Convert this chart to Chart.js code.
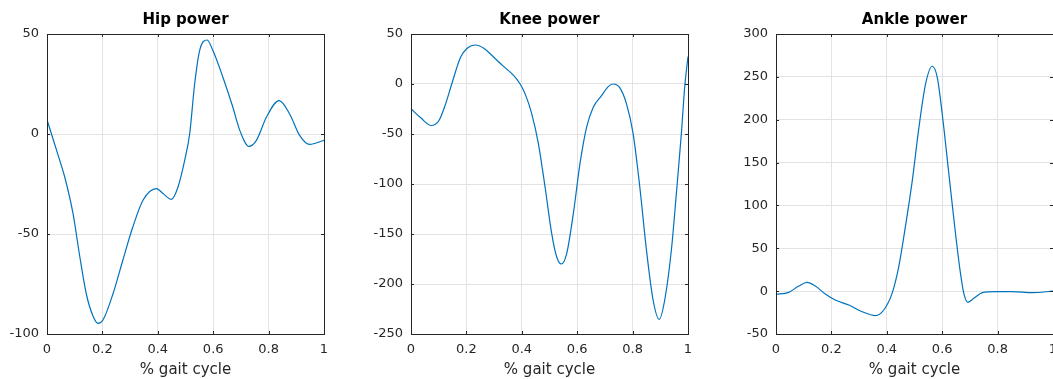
<!DOCTYPE html>
<html>
<head>
<meta charset="utf-8">
<script src="https://cdn.jsdelivr.net/npm/chart.js@4.4.0/dist/chart.umd.min.js"></script>
<style>
  html, body { margin: 0; padding: 0; background: #fff; overflow: hidden; width: 1053px; height: 379px; }
  .panel { position: absolute; top: 0; width: 364px; height: 379px; }
</style>
</head>
<body>
<div class="panel" style="left:0px"><canvas id="hip"></canvas></div>
<div class="panel" style="left:364px"><canvas id="knee"></canvas></div>
<div class="panel" style="left:729px"><canvas id="ankle"></canvas></div>
<script>
// % gait cycle positions and power values
const hipX = [0, 0.046, 0.064, 0.094, 0.118, 0.142, 0.166, 0.184, 0.202, 0.238, 0.274, 0.31, 0.347, 0.395, 0.419, 0.449, 0.473, 0.497, 0.515, 0.533, 0.551, 0.578, 0.599, 0.635, 0.671, 0.696, 0.729, 0.756, 0.792, 0.838, 0.876, 0.912, 0.948, 1.0];
const hipY = [7.1, -13.2, -21.5, -39.8, -61, -80, -91, -94.7, -93, -80, -63, -46.4, -33, -27.3, -29.8, -32.7, -26.5, -13.2, 0, 25, 41.7, 47, 41.7, 28.4, 13.4, 1.8, -6.2, -3.2, 8.4, 16.7, 10, -0.7, -5.2, -3.2];

const kneeX = [0, 0.035, 0.073, 0.101, 0.125, 0.149, 0.179, 0.203, 0.233, 0.263, 0.299, 0.335, 0.371, 0.394, 0.412, 0.436, 0.46, 0.484, 0.508, 0.526, 0.543, 0.562, 0.586, 0.61, 0.634, 0.658, 0.688, 0.712, 0.73, 0.754, 0.778, 0.802, 0.826, 0.85, 0.874, 0.896, 0.916, 0.94, 0.958, 0.976, 0.988, 1.0];
const kneeY = [-24.8, -33.8, -41.5, -36.5, -19.9, 1.8, 26.7, 35.7, 39, 35.7, 26.7, 17.4, 8.4, 0, -9.9, -29.8, -59.8, -103, -149.6, -173, -180, -169.6, -129.7, -79.7, -43.1, -23.2, -11.6, -2.6, 0, -3.9, -19.9, -49.8, -103, -166, -216, -235.4, -216, -166, -109.6, -49.8, -3.2, 27.4];

const ankleX = [0, 0.046, 0.082, 0.112, 0.142, 0.178, 0.214, 0.263, 0.311, 0.359, 0.389, 0.419, 0.443, 0.467, 0.492, 0.516, 0.54, 0.564, 0.582, 0.6, 0.624, 0.648, 0.666, 0.678, 0.693, 0.714, 0.745, 0.793, 0.853, 0.925, 1.0];
const ankleY = [-3.8, -1.4, 5.9, 10.2, 5.9, -3.4, -10.4, -16.2, -24, -28.6, -22, -2.6, 28.4, 75, 129, 191, 241.8, 262.4, 249.6, 206.9, 137, 67.2, 20.7, -2.6, -13, -8.4, -1.8, -0.6, -0.6, -1.8, 0];

const xTicks = [0, 0.2, 0.4, 0.6, 0.8, 1];

const ink = '#262626';

// MATLAB style box, inward tick marks and bold title
const boxPlugin = {
    id: 'box',
    afterDraw(chart) {
        const {ctx, chartArea: a, scales} = chart;
        ctx.save();
        ctx.strokeStyle = ink;
        ctx.lineWidth = 1;
        ctx.beginPath();
        scales.x.ticks.forEach(t => {
            const px = Math.round(scales.x.getPixelForValue(t.value)) + 0.5;
            ctx.moveTo(px, a.bottom); ctx.lineTo(px, a.bottom - 3);
            ctx.moveTo(px, a.top); ctx.lineTo(px, a.top + 3);
        });
        scales.y.ticks.forEach(t => {
            const py = Math.round(scales.y.getPixelForValue(t.value)) + 0.5;
            ctx.moveTo(a.left, py); ctx.lineTo(a.left + 3, py);
            ctx.moveTo(a.right, py); ctx.lineTo(a.right - 3, py);
        });
        ctx.stroke();
        ctx.strokeRect(Math.round(a.left) + 0.5, Math.round(a.top) + 0.5,
            Math.round(a.right - a.left), Math.round(a.bottom - a.top));
        ctx.fillStyle = '#000';
        ctx.font = 'bold 15px "DejaVu Sans"';
        ctx.textAlign = 'center';
        ctx.textBaseline = 'middle';
        ctx.fillText(chart.options.plugins.boxTitle, (a.left + a.right) / 2, 20.5);
        ctx.restore();
    }
};

function makePanel(id, title, xs, ys, yMin, yMax) {
    new Chart(document.getElementById(id), {
        type: 'line',
        data: {
            datasets: [{
                data: xs.map((x, i) => ({x: x, y: ys[i]})),
                borderColor: '#0072BD',
                borderWidth: 1.2,
                pointRadius: 0,
                cubicInterpolationMode: 'monotone',
                fill: false
            }]
        },
        options: {
            responsive: true,
            maintainAspectRatio: false,
            animation: false,
            layout: { padding: { top: 34, right: 40, bottom: 0, left: 0 } },
            scales: {
                x: {
                    type: 'linear',
                    min: 0, max: 1,
                    afterBuildTicks: axis => { axis.ticks = xTicks.map(v => ({value: v})); },
                    afterFit: axis => { axis.height = 45; },
                    grid: { color: '#e3e3e3', drawTicks: false },
                    border: { display: false },
                    ticks: {
                        color: ink, padding: 8, maxRotation: 0,
                        font: { family: 'DejaVu Sans', size: 13 },
                        callback: v => String(+v.toFixed(1))
                    },
                    title: {
                        display: true, text: '% gait cycle', color: ink,
                        font: { family: 'DejaVu Sans', size: 15 },
                        padding: { top: 0, bottom: 0 }
                    }
                },
                y: {
                    min: yMin, max: yMax,
                    afterFit: axis => { axis.width = 47; },
                    grid: { color: '#e3e3e3', drawTicks: false },
                    border: { display: false },
                    ticks: {
                        color: ink, padding: 8, stepSize: 50,
                        font: { family: 'DejaVu Sans', size: 13 }
                    }
                }
            },
            plugins: {
                legend: { display: false },
                tooltip: { enabled: false },
                boxTitle: title
            }
        },
        plugins: [boxPlugin]
    });
}

makePanel('hip', 'Hip power', hipX, hipY, -100, 50);
makePanel('knee', 'Knee power', kneeX, kneeY, -250, 50);
makePanel('ankle', 'Ankle power', ankleX, ankleY, -50, 300);
</script>
</body>
</html>
